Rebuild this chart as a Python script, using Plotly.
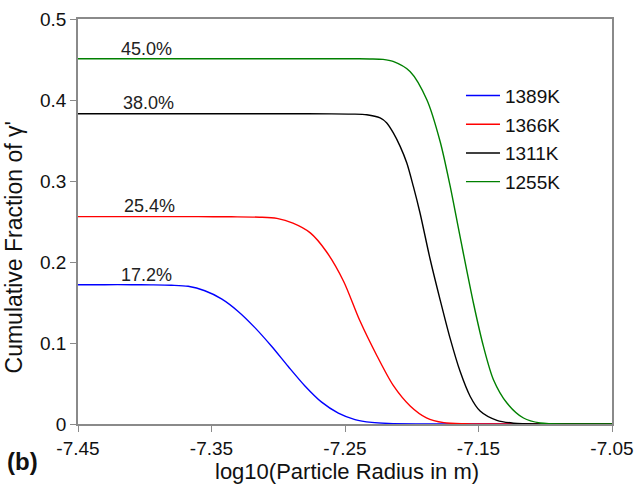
import plotly.graph_objects as go

# ---- data ----
series_names = ["1389K", "1366K", "1311K", "1255K"]
series_colors = ["#0000ff", "#ff0000", "#000000", "#008000"]

x_1389 = [-7.45, -7.43, -7.41, -7.395, -7.38, -7.3675, -7.355, -7.3425, -7.33, -7.3175,
          -7.305, -7.2925, -7.28, -7.2675, -7.255, -7.2425, -7.23, -7.2175, -7.19,
          -7.15, -7.05]
y_1389 = [0.172, 0.172, 0.172, 0.1718, 0.1713, 0.170, 0.1645, 0.1545, 0.139, 0.119,
          0.096, 0.071, 0.047, 0.027, 0.0135, 0.0055, 0.002, 0.0007, 0.0001,
          0.0, 0.0]

x_1366 = [-7.45, -7.40, -7.36, -7.335, -7.314, -7.301, -7.289, -7.276, -7.264, -7.251,
          -7.239, -7.226, -7.214, -7.201, -7.189, -7.176, -7.16, -7.13, -7.05]
y_1366 = [0.256, 0.256, 0.256, 0.2558, 0.2553, 0.2538, 0.248, 0.236, 0.213, 0.176,
          0.128, 0.084, 0.048, 0.022, 0.0077, 0.0017, 0.0003, 0.0, 0.0]

x_1311 = [-7.45, -7.35, -7.29, -7.26, -7.245, -7.2337, -7.2237, -7.2187, -7.2138,
          -7.2087, -7.2037, -7.1988, -7.1938, -7.1863, -7.1787, -7.1713, -7.1638,
          -7.1562, -7.1488, -7.1362, -7.1238, -7.10, -7.05]
y_1311 = [0.383, 0.383, 0.383, 0.3829, 0.3826, 0.3818, 0.3778, 0.3716, 0.3593,
          0.3427, 0.3222, 0.2933, 0.2605, 0.204, 0.153, 0.106, 0.065,
          0.034, 0.016, 0.0045, 0.001, 0.0001, 0.0]

x_1255 = [-7.45, -7.35, -7.27, -7.245, -7.2315, -7.2215, -7.214, -7.2013, -7.1887,
          -7.1787, -7.1713, -7.1638, -7.1538, -7.1463, -7.1388, -7.1287, -7.1163,
          -7.1038, -7.08, -7.05]
y_1255 = [0.451, 0.451, 0.451, 0.4509, 0.4507, 0.4502, 0.4477, 0.4353, 0.4004,
          0.3485, 0.2942, 0.2312, 0.1494, 0.0958, 0.0547, 0.0259, 0.0074,
          0.0012, 0.0001, 0.0]

xs = [x_1389, x_1366, x_1311, x_1255]
ys = [y_1389, y_1366, y_1311, y_1255]

label_texts = ["17.2%", "25.4%", "38.0%", "45.0%"]
label_x = [-7.3985, -7.3965, -7.3975, -7.3985]
label_y = [0.1843, 0.2686, 0.3967, 0.4633]

x_tickvals = [-7.45, -7.35, -7.25, -7.15, -7.05]
x_ticktext = ["-7.45", "-7.35", "-7.25", "-7.15", "-7.05"]
y_tickvals = [0, 0.1, 0.2, 0.3, 0.4, 0.5]
y_ticktext = ["0", "0.1", "0.2", "0.3", "0.4", "0.5"]

FONT = "Arial, 'Liberation Sans', sans-serif"
AXIS_GRAY = "#8a8a8a"

fig = go.Figure()
for name, color, x, y in zip(series_names, series_colors, xs, ys):
    fig.add_trace(go.Scatter(
        x=x, y=y, name=name, mode="lines", legendgroup=name,
        line=dict(color=color, width=1.4, shape="spline", smoothing=0.8),
    ))

for t, lx, ly in zip(label_texts, label_x, label_y):
    fig.add_annotation(x=lx, y=ly, text=t, showarrow=False, xref="x", yref="y",
                       xanchor="center", yanchor="middle",
                       font=dict(family=FONT, size=18, color="#222"))

fig.add_annotation(x=-0.1199, y=0.4358, xref="paper", yref="paper",
                   xanchor="center", yanchor="middle",
                   text="Cumulative Fraction of γ'", textangle=-90, showarrow=False,
                   font=dict(family=FONT, size=23, color="#111"))
fig.add_annotation(x=0.5036, y=-0.1185, xref="paper", yref="paper",
                   xanchor="center", yanchor="middle",
                   text="log10(Particle Radius in m)", showarrow=False,
                   font=dict(family=FONT, size=22, color="#111"))
fig.add_annotation(x=-0.103, y=-0.0914, xref="paper", yref="paper",
                   xanchor="center", yanchor="middle",
                   text="<b>(b)</b>", showarrow=False,
                   font=dict(family=FONT, size=24, color="#111"))

fig.update_xaxes(range=[-7.45, -7.05], tickvals=x_tickvals, ticktext=x_ticktext,
                 showline=True, mirror=True, linecolor=AXIS_GRAY, linewidth=1.5,
                 ticks="outside", ticklen=6, tickcolor=AXIS_GRAY, tickwidth=1.2,
                 showgrid=False, zeroline=False, ticklabeloverflow="allow",
                 tickfont=dict(family=FONT, size=19, color="#111"))
fig.update_yaxes(range=[0, 0.5], tickvals=y_tickvals, ticktext=y_ticktext,
                 showline=True, mirror=True, linecolor=AXIS_GRAY, linewidth=1.5,
                 ticks="outside", ticklen=6, tickcolor=AXIS_GRAY, tickwidth=1.2,
                 showgrid=False, zeroline=False, ticklabeloverflow="allow",
                 tickfont=dict(family=FONT, size=19, color="#111"))

fig.update_layout(
    width=634, height=489,
    margin=dict(l=78, r=22, t=19, b=65, autoexpand=False),
    paper_bgcolor="white", plot_bgcolor="white",
    showlegend=True,
    legend=dict(x=0.7172, y=0.8575, xanchor="left", yanchor="top",
                bgcolor="rgba(0,0,0,0)", tracegroupgap=1, itemwidth=34,
                font=dict(family=FONT, size=19, color="#111")),
)

fig.write_html(
    "out.html",
    config={"displayModeBar": False},
    post_script="document.body.style.margin='0';document.body.style.padding='0';"
                "document.documentElement.style.overflow='hidden';",
)
